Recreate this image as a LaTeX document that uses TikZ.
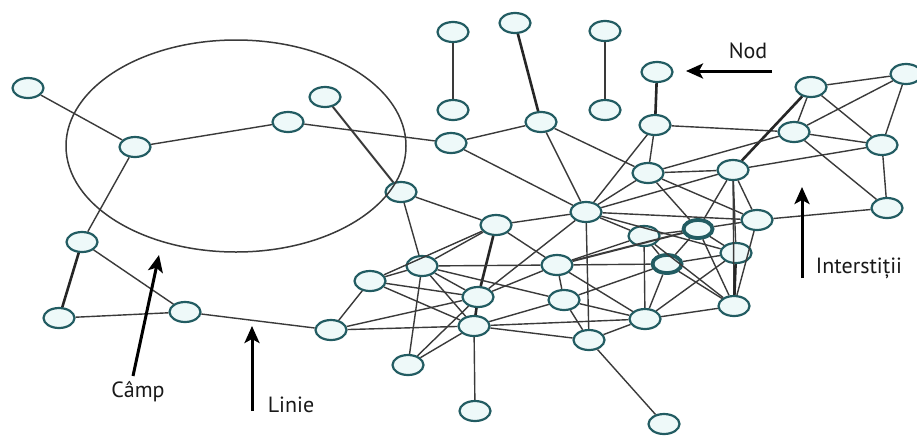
\documentclass[tikz,border=0pt]{standalone}
\usepackage{fontspec}
\setmainfont{PT Sans}
\usepackage{tikz}
\usetikzlibrary{arrows.meta,shapes.geometric}
\definecolor{rim}{RGB}{34,92,98}
\definecolor{core}{RGB}{238,249,249}
\definecolor{wire}{RGB}{58,58,58}
\tikzset{
  netnode/.style={ellipse,draw=rim,fill=core,line width=2.2pt,minimum width=31pt,minimum height=20pt,inner sep=0pt},
  hubnode/.style={netnode,line width=3.8pt,minimum width=29pt,minimum height=18pt},
  link/.style={draw=wire,line width=1.4pt},
  heavylink/.style={draw=black!85,line width=2.6pt},
  pointer/.style={draw=black,line width=3pt,-{Stealth[length=17pt,width=15pt,inset=4pt]}},
  tag/.style={font=\fontsize{22}{26}\selectfont,text=black!90}
}
\begin{document}
\begin{tikzpicture}[x=1pt,y=-1pt]
		\useasboundingbox (0,0) rectangle (917,437);
		\fill[white] (0,0) rectangle (917,437);
		
		% left cluster
		\node (n1) at (28,88) [netnode] {};
		\node (n2) at (135,147) [netnode] {};
		\node (n3) at (288,122) [netnode] {};
		\node (n4) at (325,97) [netnode] {};
		\node (n5) at (82,242) [netnode] {};
		\node (n6) at (59,318) [netnode] {};
		\node (n7) at (185,312) [netnode] {};
		\node (n8) at (401,192) [netnode] {};
		\node (n9) at (331,330) [netnode] {};
		
		% top
		\node (t1) at (453,32) [netnode] {};
		\node (t2) at (453,110) [netnode] {};
		\node (t3) at (515,23) [netnode] {};
		\node (t4) at (605,31) [netnode] {};
		\node (t5) at (605,110) [netnode] {};
		\node (nod) at (657,72) [netnode] {};
		\node (m1) at (541,122) [netnode] {};
		\node (m2) at (655,125) [netnode] {};
		\node (s1) at (451,143) [netnode] {};
		
		% right
		\node (r1) at (811,87) [netnode] {};
		\node (r2) at (906,74) [netnode] {};
		\node (r3) at (794,132) [netnode] {};
		\node (r4) at (882,145) [netnode] {};
		\node (r5) at (887,208) [netnode] {};
		\node (r6) at (733,170) [netnode] {};
		\node (r7) at (648,173) [netnode] {};
		\node (r8) at (757,220) [netnode] {};
		
		% centre
		\node (c1) at (586,212) [netnode] {};
		\node (c2) at (698,229) [hubnode] {};
		\node (c3) at (667,264) [hubnode] {};
		\node (c4) at (736,253) [netnode] {};
		\node (c5) at (644,236) [netnode] {};
		\node (c6) at (734,306) [netnode] {};
		\node (c7) at (645,319) [netnode] {};
		\node (c8) at (557,265) [netnode] {};
		\node (c9) at (564,300) [netnode] {};
		\node (c10) at (589,340) [netnode] {};
		\node (c11) at (664,424) [netnode] {};
		
		\node (l1) at (496,225) [netnode] {};
		\node (l2) at (422,266) [netnode] {};
		\node (l3) at (370,281) [netnode] {};
		\node (l4) at (478,297) [netnode] {};
		\node (l5) at (474,326) [netnode] {};
		\node (l6) at (408,365) [netnode] {};
		\node (l7) at (475,411) [netnode] {};
		
		% links, left side
		\draw[link] (n1) -- (n2);
		\draw[link] (n2) -- (n3);
		\draw[link] (n2) -- (n5);
		\draw[link] (n3) -- (s1);
		\draw[link,line width=2pt] (n4) -- (n8);
		\draw[heavylink] (n5) -- (n6);
		\draw[link] (n5) -- (n7);
		\draw[link] (n6) -- (n7);
		\draw[link] (n7) -- (n9);
		\draw[link] (n9) -- (l3);
		\draw[link] (n9) -- (l5);
		\draw[link] (n9) -- (l4);
		
		% links, top
		\draw[link] (t1) -- (t2);
		\draw[link] (t4) -- (t5);
		\draw[heavylink] (t3) -- (m1);
		\draw[heavylink] (nod) -- (m2);
		\draw[link] (s1) -- (m1);
		\draw[link] (s1) -- (c1);
		\draw[link] (m1) -- (c1);
		\draw[link] (m1) -- (r7);
		\draw[link] (m2) -- (r7);
		\draw[link] (m2) -- (r3);
		\draw[link] (m2) -- (c1);
		
		% links, right
		\draw[link] (r1) -- (r2);
		\draw[link] (r1) -- (r3);
		\draw[link] (r1) -- (r4);
		\draw[heavylink] (r1) -- (r6);
		\draw[link] (r3) -- (r2);
		\draw[link] (r3) -- (r4);
		\draw[link] (r3) -- (r5);
		\draw[link] (r2) -- (r4);
		\draw[link] (r4) -- (r5);
		\draw[link] (r6) -- (r4);
		\draw[link] (r8) -- (r5);
		\draw[link] (r6) -- (r8);
		\draw[link] (r7) -- (r3);
		\draw[link] (r7) -- (r6);
		
		% links, centre
		\draw[link] (r7) -- (c1);
		\draw[link] (r6) -- (c1);
		\draw[link] (c1) -- (r8);
		\draw[link] (c1) -- (c5);
		\draw[link] (c1) -- (c4);
		\draw[link] (r7) -- (c2);
		\draw[link] (r7) -- (r8);
		\draw[link] (r6) -- (c2);
		\draw[link] (r6) -- (c4);
		\draw[link] (r6) -- (c6);
		\draw[link] (c2) -- (c5);
		\draw[link] (c2) -- (c3);
		\draw[link] (c2) -- (c4);
		\draw[link] (c2) -- (r8);
		\draw[link] (c2) -- (c6);
		\draw[link] (c5) -- (c3);
		\draw[link] (c5) -- (c7);
		\draw[link] (c5) -- (c6);
		\draw[link] (c3) -- (c4);
		\draw[link] (c3) -- (c6);
		\draw[link] (c3) -- (c7);
		\draw[heavylink] (c4) -- (c6);
		\draw[link] (r8) -- (c6);
		\draw[link] (c4) -- (c7);
		\draw[link] (c7) -- (c6);
		\draw[link] (c8) -- (c3);
		\draw[link] (c8) -- (c5);
		\draw[link] (c8) -- (c7);
		\draw[link,line width=2pt] (c8) -- (c2);
		\draw[link] (c9) -- (c7);
		\draw[link] (c9) -- (c3);
		\draw[link] (c10) -- (c7);
		\draw[link] (c1) -- (c10);
		\draw[link] (c8) -- (c9);
		\draw[link] (c9) -- (c10);
		\draw[link] (c10) -- (c11);
		
		% links, left of centre
		\draw[link] (n8) -- (l2);
		\draw[link] (n8) -- (l1);
		\draw[link] (l1) -- (c1);
		\draw[heavylink] (l1) -- (l4);
		\draw[link] (l1) -- (l2);
		\draw[link] (l1) -- (l3);
		\draw[link] (l1) -- (c8);
		\draw[link] (l2) -- (l3);
		\draw[link] (l2) -- (c8);
		\draw[link] (l2) -- (l4);
		\draw[link] (l2) -- (l5);
		\draw[link] (l2) -- (l6);
		\draw[link] (l2) -- (c9);
		\draw[link] (l3) -- (l4);
		\draw[link] (l3) -- (l5);
		\draw[heavylink] (l4) -- (l5);
		\draw[link] (l4) -- (c1);
		\draw[link] (l4) -- (c8);
		\draw[link] (l5) -- (c10);
		\draw[link] (l5) -- (c9);
		\draw[link] (l5) -- (c7);
		\draw[link] (l5) -- (l6);
		\draw[link] (l4) -- (l6);
		\draw[link] (l5) -- (l7);
		
		% the field
		\draw[wire,line width=1.5pt] (236,146) ellipse [x radius=170pt, y radius=106pt];
		
		% labels and pointers
		\coordinate (nodtail) at (772,71);
		\coordinate (nodtip) at (686,71);
		\coordinate (camptail) at (133,376);
		\coordinate (camptip) at (159,255);
		\coordinate (linietail) at (252,411);
		\coordinate (linietip) at (252,326);
		\coordinate (gaptail) at (802,278);
		\coordinate (gaptip) at (802,187);
		\draw[pointer] (nodtail) -- (nodtip);
		\draw[pointer] (camptail) -- (camptip);
		\draw[pointer] (linietail) -- (linietip);
		\draw[pointer] (gaptail) -- (gaptip);
		\node (nodlabel) at (748,51) [tag] {Nod};
		\node (camplabel) at (138,392) [tag] {Câmp};
		\node (linielabel) at (291,405) [tag] {Linie};
		\node (gaplabel) at (859,268) [tag] {Interstiții};
		
	\end{tikzpicture}
\end{document}
